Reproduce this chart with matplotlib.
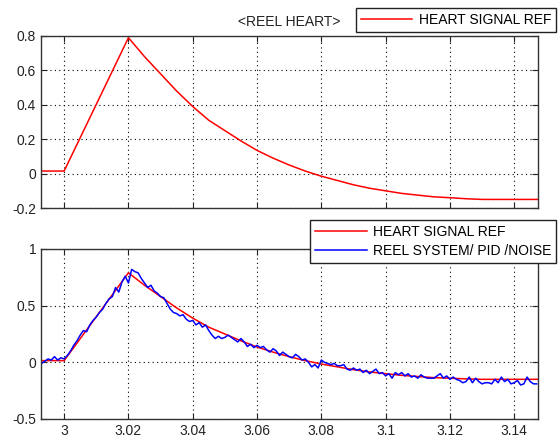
import numpy as np
import matplotlib
matplotlib.use("Agg")
import matplotlib.pyplot as plt

plt.rcParams["font.family"] = ["Liberation Sans", "DejaVu Sans"]
plt.rcParams["axes.unicode_minus"] = False

# reference heart signal
ref_t = [2.9928, 3.000, 3.020, 3.025, 3.030, 3.035, 3.040, 3.045, 3.050, 3.055,
         3.060, 3.065, 3.070, 3.075, 3.080, 3.085, 3.090, 3.095, 3.100, 3.105,
         3.110, 3.115, 3.120, 3.125, 3.130, 3.135, 3.140, 3.1474]
ref_v = [0.015, 0.015, 0.79, 0.68, 0.58, 0.48, 0.39, 0.31, 0.25, 0.19,
         0.135, 0.09, 0.05, 0.015, -0.015, -0.04, -0.065, -0.085, -0.10, -0.115,
         -0.125, -0.135, -0.14, -0.146, -0.15, -0.15, -0.15, -0.15]

# measured system output (PID + noise), sampled every 1 ms from 2.993
sys_t0 = 2.993
sys_dt = 0.001
sys_v = [
    -0.01, 0.01, 0.03, 0.02, 0.05, 0.02, 0.04, 0.03, 0.06, 0.10,
    0.15, 0.19, 0.24, 0.28, 0.27, 0.33, 0.37, 0.40, 0.44, 0.47,
    0.52, 0.56, 0.58, 0.66, 0.62, 0.71, 0.76, 0.70, 0.82, 0.80,
    0.79, 0.74, 0.70, 0.66, 0.68, 0.63, 0.61, 0.58, 0.57, 0.52,
    0.47, 0.44, 0.43, 0.41, 0.42, 0.38, 0.36, 0.37, 0.33, 0.35,
    0.31, 0.33, 0.28, 0.24, 0.21, 0.23, 0.21, 0.22, 0.24, 0.22,
    0.20, 0.18, 0.21, 0.18, 0.14, 0.16, 0.13, 0.15, 0.13, 0.14,
    0.11, 0.09, 0.12, 0.10, 0.06, 0.09, 0.07, 0.05, 0.04, 0.07,
    0.05, 0.02, 0.03, 0.00, -0.04, -0.02, -0.05, 0.02, 0.00, -0.01,
    -0.02, -0.01, -0.03, -0.03, -0.02, -0.06, -0.07, -0.05, -0.07, -0.06,
    -0.09, -0.07, -0.10, -0.08, -0.06, -0.10, -0.09, -0.12, -0.10, -0.14,
    -0.09, -0.11, -0.09, -0.12, -0.10, -0.13, -0.12, -0.14, -0.11, -0.13,
    -0.14, -0.14, -0.14, -0.12, -0.10, -0.14, -0.12, -0.15, -0.13, -0.15,
    -0.16, -0.18, -0.17, -0.13, -0.18, -0.14, -0.17, -0.19, -0.18, -0.18,
    -0.19, -0.15, -0.18, -0.13, -0.17, -0.15, -0.19, -0.18, -0.16, -0.20,
    -0.19, -0.13, -0.17, -0.19, -0.19,
]
sys_t = sys_t0 + sys_dt * np.arange(len(sys_v))

x_ticks = [3.0, 3.02, 3.04, 3.06, 3.08, 3.10, 3.12, 3.14]
x_labels = ["3", "3.02", "3.04", "3.06", "3.08", "3.1", "3.12", "3.14"]
top_yticks = [-0.2, 0, 0.2, 0.4, 0.6, 0.8]
top_ylabels = ["-0.2", "0", "0.2", "0.4", "0.6", "0.8"]
bot_yticks = [-0.5, 0, 0.5, 1]
bot_ylabels = ["-0.5", "0", "0.5", "1"]

RED = "#ff0000"
BLUE = "#0000ff"
FS = 10
LEG = dict(fontsize=FS, frameon=True, fancybox=False, framealpha=1,
           edgecolor="#222222", handlelength=3.7, handletextpad=0.45,
           borderpad=0.35, labelspacing=0.35, borderaxespad=0)


def style_axes(ax):
    ax.set_xlim(2.9928, 3.1474)
    ax.set_xticks(x_ticks)
    ax.grid(True, color="black", linestyle=(0, (1, 3)), linewidth=0.8)
    ax.tick_params(direction="in", top=True, right=True, length=4,
                   labelsize=FS, colors="#222222")
    for s in ax.spines.values():
        s.set_color("#333333")
        s.set_linewidth(1.0)


fig = plt.figure(figsize=(5.6, 4.41), dpi=100)
fig.patch.set_facecolor("white")

ax1 = fig.add_axes([0.0732, 0.5283, 0.8875, 0.3901])
ax2 = fig.add_axes([0.0732, 0.0499, 0.8875, 0.3855])

# top panel: reference only
l1, = ax1.plot(ref_t, ref_v, color=RED, linewidth=1.1)
style_axes(ax1)
ax1.set_ylim(-0.2, 0.8)
ax1.set_yticks(top_yticks)
ax1.set_yticklabels(top_ylabels)
ax1.set_xticklabels([])
fig.legend([l1], ["HEART SIGNAL REF"], loc="upper right",
           bbox_to_anchor=(556 / 560, 1 - 8 / 441), **LEG)
fig.text(289 / 560, 1 - 22 / 441, "<REEL HEART>", ha="center", va="center",
         fontsize=FS, color="#222222")

# bottom panel: reference vs system output
l2, = ax2.plot(ref_t, ref_v, color=RED, linewidth=1.1)
l3, = ax2.plot(sys_t, sys_v, color=BLUE, linewidth=1.1)
style_axes(ax2)
ax2.set_ylim(-0.5, 1)
ax2.set_yticks(bot_yticks)
ax2.set_yticklabels(bot_ylabels)
ax2.set_xticklabels(x_labels)
fig.legend([l2, l3], ["HEART SIGNAL REF", "REEL SYSTEM/ PID /NOISE"],
           loc="upper right", bbox_to_anchor=(556 / 560, 1 - 220 / 441), **LEG)

fig.savefig("out.png", dpi=100, facecolor="white")
